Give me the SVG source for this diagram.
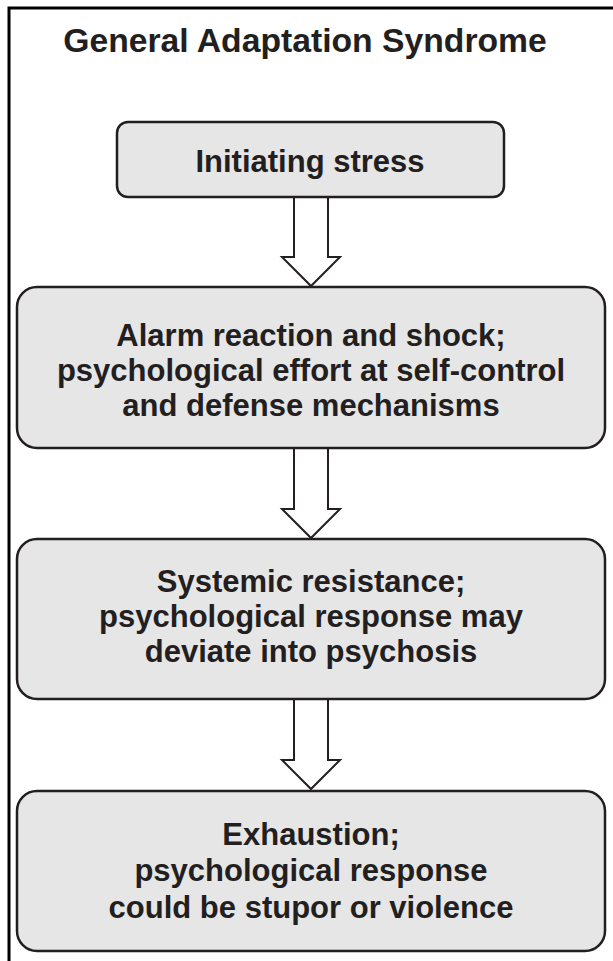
<svg xmlns="http://www.w3.org/2000/svg" width="613" height="961" viewBox="0 0 613 961">
<style>
.box{fill:#e6e6e6;stroke:#231f20;stroke-width:2.5}
.t{font-family:"Liberation Sans",Arial,sans-serif;font-weight:bold;font-size:31px;fill:#231f20;text-anchor:middle}
.title{font-size:33.7px}
.arr{fill:#ffffff;stroke:#231f20;stroke-width:2;stroke-linejoin:miter}
.frame{stroke:#000;stroke-width:3;fill:none}
</style>
<path class="frame" d="M9,961 V8 H613"/>
<text class="t title" x="305" y="52">General Adaptation Syndrome</text>
<g id="connectors">
<path class="arr" d="M294,196 V257 H282 L311,286 L340,257 H328 V196"/>
<path class="arr" d="M294,448 V509 H282 L311,538 L340,509 H328 V448"/>
<path class="arr" d="M294,699 V760 H282 L311,789 L340,760 H328 V699"/>
</g>
<g id="n1">
<rect class="box" x="117" y="122" width="387" height="75" rx="11"/>
<text class="t" x="310" y="172">Initiating stress</text>
</g>
<g id="n2">
<rect class="box" x="17" y="287" width="588" height="161" rx="20"/>
<text class="t" x="311" y="346">Alarm reaction and shock;</text>
<text class="t" x="311" y="381">psychological effort at self-control</text>
<text class="t" x="311" y="416">and defense mechanisms</text>
</g>
<g id="n3">
<rect class="box" x="17" y="539" width="588" height="160" rx="20"/>
<text class="t" x="311" y="592">Systemic resistance;</text>
<text class="t" x="311" y="627">psychological response may</text>
<text class="t" x="311" y="662">deviate into psychosis</text>
</g>
<g id="n4">
<rect class="box" x="17" y="791" width="588" height="160" rx="20"/>
<text class="t" x="311" y="845">Exhaustion;</text>
<text class="t" x="311" y="881">psychological response</text>
<text class="t" x="311" y="918">could be stupor or violence</text>
</g>
</svg>
